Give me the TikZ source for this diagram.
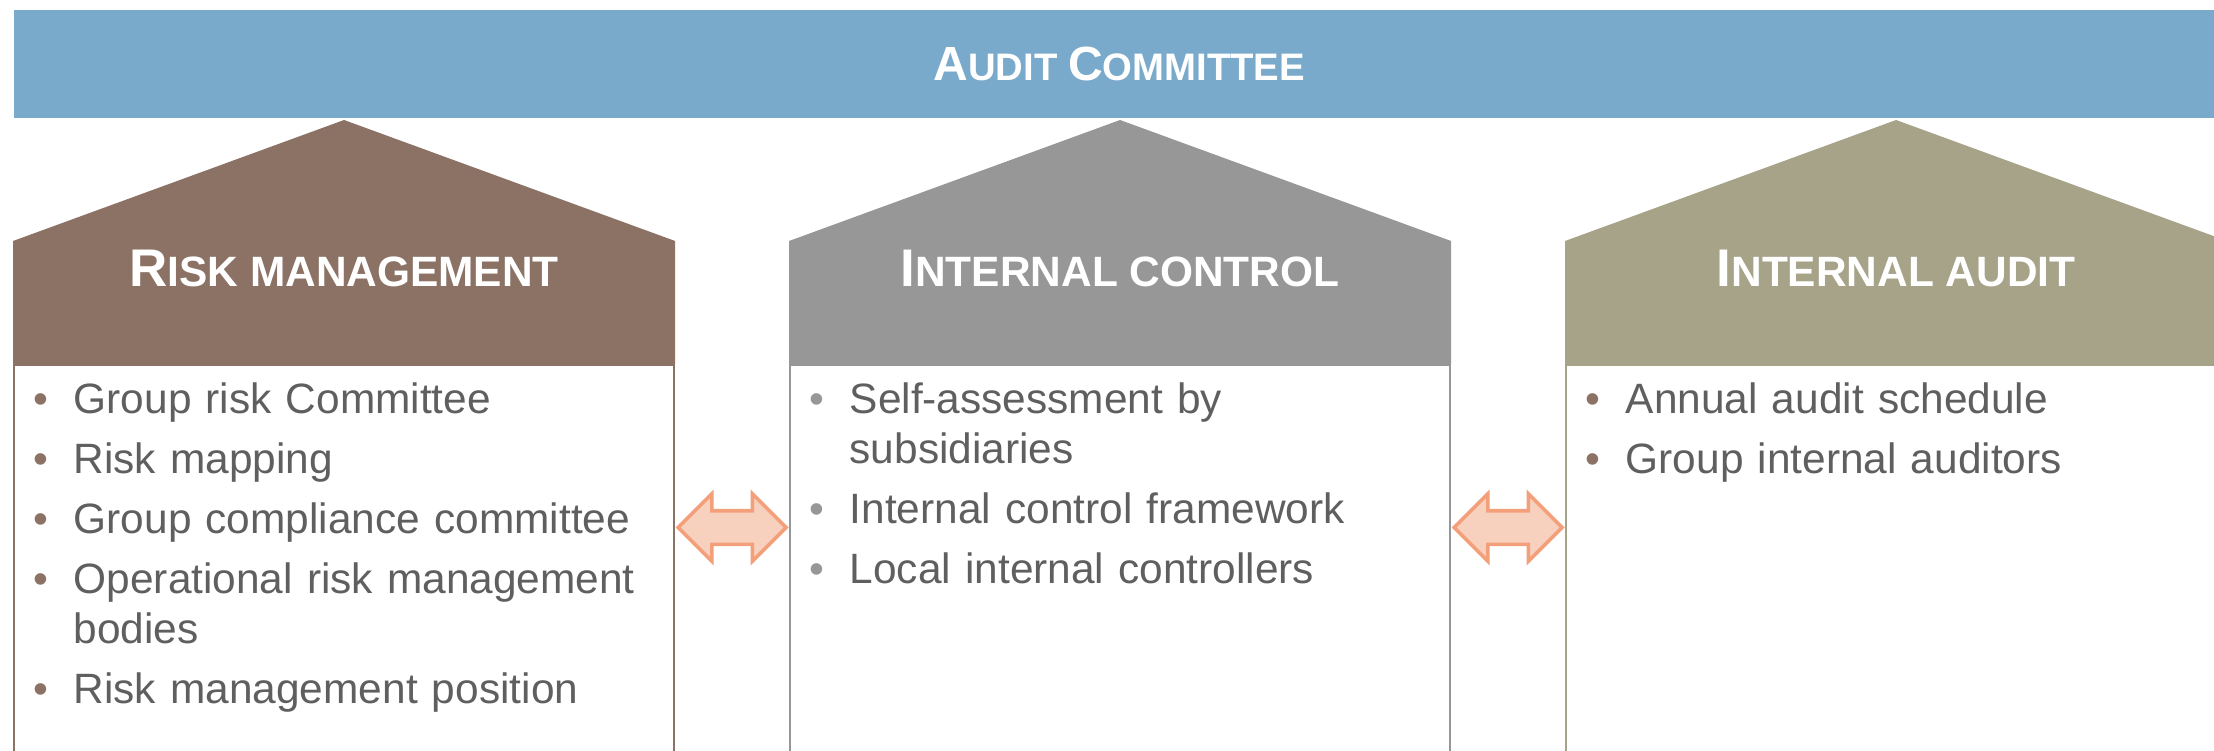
\documentclass[tikz,border=0pt]{standalone}
\usepackage{fontspec}
\setmainfont{Liberation Sans}
\usetikzlibrary{positioning,shapes.arrows,calc}
\definecolor{boardblue}{RGB}{122,170,203}
\definecolor{riskbrown}{RGB}{139,114,101}
\definecolor{controlgray}{RGB}{151,151,151}
\definecolor{auditolive}{RGB}{166,163,137}
\definecolor{bodytext}{RGB}{95,95,95}
\definecolor{linkfill}{RGB}{248,208,190}
\definecolor{linkline}{RGB}{243,160,122}

% first letter full size, the rest as reduced capitals
\newcommand{\barsc}[2]{#1{\fontsize{10.9}{13}\selectfont#2}}
\newcommand{\roofsc}[2]{#1{\fontsize{12.07}{14}\selectfont#2}}
% one bullet point, wrapped lines hang under the text
\newcommand{\bitem}[1]{\par\hangindent=0.4cm\hangafter=1\noindent
  \makebox[0.4cm][l]{\textcolor{dot}{\textbullet}}#1}

\tikzset{
  pillar/.style={draw=#1, line width=0.6pt, fill=white, anchor=north west,
    minimum width=6.6cm, minimum height=4.2cm, inner sep=0},
  rooftitle/.style={text=white, anchor=base,
    font=\bfseries\fontsize{15.08}{18}\selectfont},
  itemlist/.style={text=bodytext, text width=6.25cm, align=left,
    anchor=base west, inner sep=0, font=\fontsize{12.07}{14.23}\selectfont,
    execute at begin node={\colorlet{dot}{#1}\setlength{\parskip}{0.1cm}%
      \hyphenpenalty=10000\exhyphenpenalty=10000}},
  linkarrow/.style={double arrow, double arrow head extend=0.17cm,
    minimum height=1.08cm, inner xsep=0, inner ysep=0.15cm,
    fill=linkfill, draw=linkline, line width=1pt}
}

\begin{document}
\begin{tikzpicture}
  \clip (0,0) rectangle (22.14,7.5);

  % committee band on top
  \node[fill=boardblue, text=white, anchor=north west, inner sep=0,
        minimum width=22.11cm, minimum height=1.08cm,
        font=\bfseries\fontsize{13.66}{16}\selectfont]
    (board) at (0.13,7.41) {\barsc{A}{UDIT }\barsc{C}{OMMITTEE}};

  % the three houses: body, roof, title
  \foreach \nm/\x/\col/\ttl in {
      rm/0.13/riskbrown/{\roofsc{R}{ISK MANAGEMENT}},
      ic/7.89/controlgray/{\roofsc{I}{NTERNAL CONTROL}},
      ia/15.65/auditolive/{\roofsc{I}{NTERNAL AUDIT}}}{
    \node[pillar=\col] (\nm-body) at (\x,3.86) {};
    \fill[\col] (\nm-body.north west) -- ++(0,1.23)
      -- ($(\nm-body.north)+(0,2.44)$) -- ($(\nm-body.north east)+(0,1.23)$)
      -- (\nm-body.north east) -- cycle;
    \node[rooftitle] (\nm-title) at ($(\nm-body.north)+(0,0.78)$) {\ttl};
  }

  \node[itemlist=riskbrown] (rm-list) at ($(rm-body.north west)+(0.2,0.11)$) {
    \bitem{Group risk Committee}
    \bitem{Risk mapping}
    \bitem{Group compliance committee}
    \bitem{Operational risk management bodies}
    \bitem{Risk management position}};
  \node[itemlist=controlgray] (ic-list) at ($(ic-body.north west)+(0.2,0.11)$) {
    \bitem{Self-assessment by subsidiaries}
    \bitem{Internal control framework}
    \bitem{Local internal controllers}};
  \node[itemlist=riskbrown] (ia-list) at ($(ia-body.north west)+(0.2,0.11)$) {
    \bitem{Annual audit schedule}
    \bitem{Group internal auditors}};

  % two-way links between the houses
  \coordinate (link) at (0,2.225);
  \node[linkarrow] (rm-ic) at ($(rm-body.east |- link)!0.5!(ic-body.west |- link)$) {};
  \node[linkarrow] (ic-ia) at ($(ic-body.east |- link)!0.5!(ia-body.west |- link)$) {};
\end{tikzpicture}
\end{document}
